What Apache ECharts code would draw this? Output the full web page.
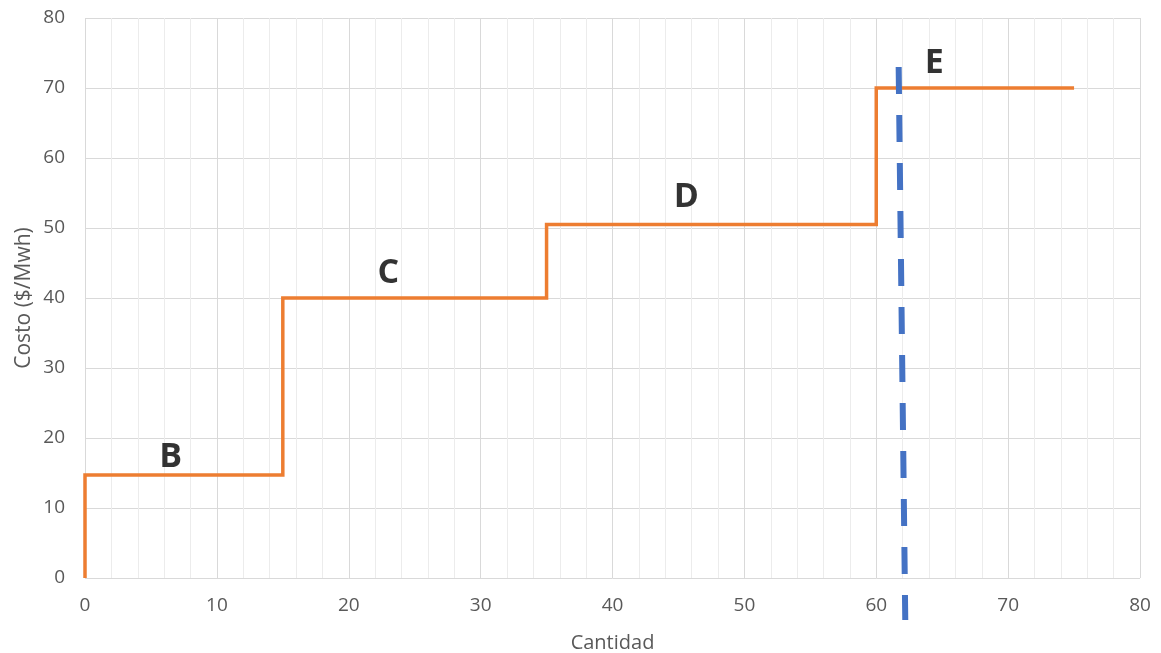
<!DOCTYPE html>
<html>
<head>
<meta charset="utf-8">
<script src="https://cdn.jsdelivr.net/npm/echarts@6/dist/echarts.min.js"></script>
<style>html,body{margin:0;padding:0;background:#fff}#c{width:1161px;height:653px}</style>
</head>
<body>
<div id="c"></div>
<script>
// Supply blocks (step curve)
const blockStart = [0, 15, 35, 60];
const blockEnd   = [15, 35, 60, 75];
const blockCost  = [14.7, 40, 50.5, 70];
// Block labels
const labelNames = ['B', 'C', 'D', 'E'];
const labelX = [6.5, 23, 45.6, 64.4];
const labelY = [17.3, 43.5, 54.4, 73.5];
// Demand (vertical dashed line)
const demandX = [61.7, 62.2];
const demandY = [73, -6];
// Axis ticks
const xTicks = [0, 10, 20, 30, 40, 50, 60, 70, 80];
const yTicks = [0, 10, 20, 30, 40, 50, 60, 70, 80];

const stepPts = [[blockStart[0], 0]];
for (let i = 0; i < blockCost.length; i++) {
  stepPts.push([blockStart[i], blockCost[i]]);
  stepPts.push([blockEnd[i], blockCost[i]]);
}
const demandPts = demandX.map((x, i) => [x, demandY[i]]);
const labelPts = labelNames.map((n, i) => ({ name: n, value: [labelX[i], labelY[i]] }));

const font = '"Open Sans", "Noto Sans", sans-serif';
const chart = echarts.init(document.getElementById('c'), null, { renderer: 'canvas' });
chart.setOption({
  animation: false,
  backgroundColor: '#ffffff',
  grid: { left: 85, right: 21, top: 18, bottom: 75, containLabel: false, outerBoundsMode: 'none' },
  xAxis: {
    type: 'value', min: xTicks[0], max: xTicks[xTicks.length - 1], interval: 10,
    name: 'Cantidad', nameLocation: 'middle', nameGap: 55,
    nameTextStyle: { color: '#595959', fontSize: 20, fontFamily: font },
    axisLine: { show: false }, axisTick: { show: false },
    axisLabel: { color: '#595959', fontSize: 19, fontFamily: font, margin: 18 },
    splitLine: { show: true, lineStyle: { color: '#d9d9d9', width: 1 } },
    minorTick: { show: false, splitNumber: 5 },
    minorSplitLine: { show: true, lineStyle: { color: '#ececec', width: 1 } }
  },
  yAxis: {
    type: 'value', min: yTicks[0], max: yTicks[yTicks.length - 1], interval: 10,
    name: 'Costo ($/Mwh)', nameLocation: 'middle', nameGap: 50, nameRotate: 90,
    nameMoveOverlap: false,
    nameTextStyle: { color: '#595959', fontSize: 21, fontFamily: font },
    axisLine: { show: false }, axisTick: { show: false },
    axisLabel: { color: '#595959', fontSize: 19, fontFamily: font, margin: 20 },
    splitLine: { show: true, lineStyle: { color: '#d9d9d9', width: 1 } }
  },
  series: [
    {
      type: 'line', data: stepPts, showSymbol: false, symbol: 'none',
      lineStyle: { color: '#ED7D31', width: 3.5, join: 'miter' }, z: 3
    },
    {
      type: 'line', data: demandPts, showSymbol: false, symbol: 'none', clip: false,
      lineStyle: { color: '#4472C4', width: 6, type: [27, 21] }, z: 4
    },
    {
      type: 'scatter', data: labelPts, symbolSize: 0, clip: false,
      label: {
        show: true, position: 'inside', formatter: '{b}',
        color: '#000000', fontSize: 34, fontWeight: 'bold', fontFamily: font
      }, z: 5
    }
  ]
});
</script>
</body>
</html>
